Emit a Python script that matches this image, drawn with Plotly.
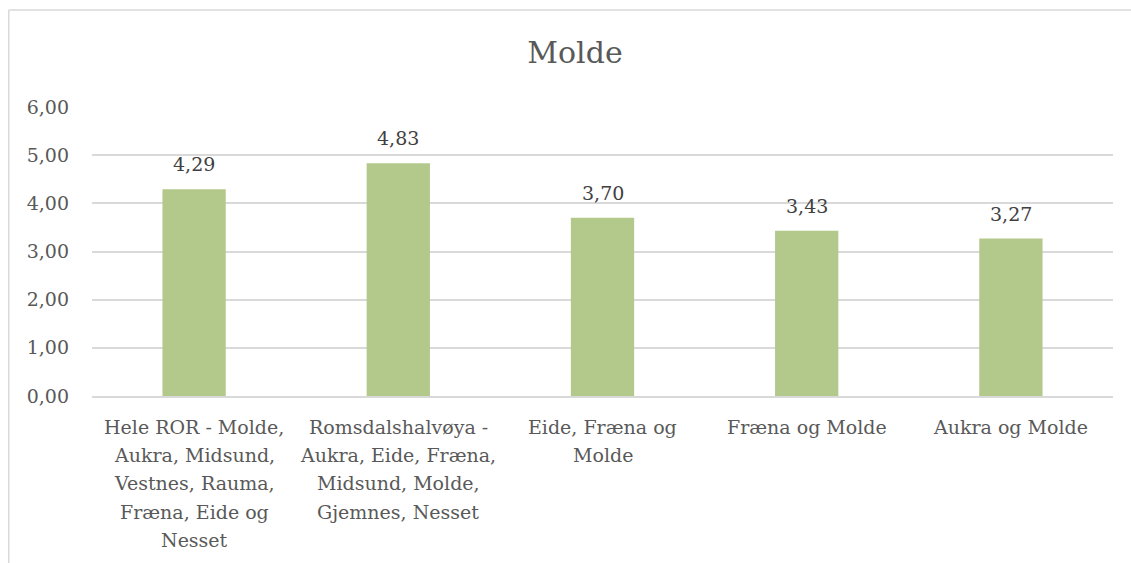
import plotly.graph_objects as go

categories = [
    "Hele ROR - Molde,<br>Aukra, Midsund,<br>Vestnes, Rauma,<br>Fræna, Eide og<br>Nesset",
    "Romsdalshalvøya -<br>Aukra, Eide, Fræna,<br>Midsund, Molde,<br>Gjemnes, Nesset",
    "Eide, Fræna og<br>Molde",
    "Fræna og Molde",
    "Aukra og Molde",
]
values = [4.29, 4.83, 3.70, 3.43, 3.27]
tick_vals = [0, 1, 2, 3, 4, 5, 6]
tick_text = ["0,00", "1,00", "2,00", "3,00", "4,00", "5,00", "6,00"]
title_text = "Molde"

FONT = "DejaVu Serif"
TXT = "#595959"
GRID = "#D9D9D9"
BAR = "#B3C98B"

# body margin is removed below, so the figure fills the window from (0, 0)
W, H = 1131, 563
L, T = 92, 107
PW, PH = 1021, 289
R = W - L - PW
B = H - T - PH

fig = go.Figure()
fig.add_trace(go.Bar(
    x=list(range(len(categories))), y=values,
    marker=dict(color=BAR, line=dict(width=0)),
    width=0.31, hoverinfo="skip",
))

# data labels
for i, v in enumerate(values):
    fig.add_annotation(
        x=i, y=v, text=f"{v:.2f}".replace(".", ","),
        showarrow=False, yanchor="bottom", yshift=12,
        font=dict(family=FONT, size=19, color="#404040"),
    )

# category labels, one annotation per line (wide line spacing)
for i, cat in enumerate(categories):
    for k, line in enumerate(cat.split("<br>")):
        fig.add_annotation(
            x=i, y=0, text=line, showarrow=False,
            xanchor="center", yanchor="middle", yshift=-(31 + 28.2 * k),
            font=dict(family=FONT, size=19, color=TXT),
        )

# outer chart border (top and left visible)
y_top = (H - B - 10) / PH
y_bot = (H - B - H - 5) / PH
x_left = (8.75 - L) / PW
x_right = (W - L + 5) / PW
fig.add_shape(type="line", xref="paper", yref="paper", x0=x_left, x1=x_right,
              y0=y_top, y1=y_top, line=dict(color=GRID, width=1.5))
fig.add_shape(type="line", xref="paper", yref="paper", x0=x_left, x1=x_left,
              y0=y_top, y1=y_bot, line=dict(color=GRID, width=1.5))

fig.update_layout(
    width=W, height=H,
    margin=dict(l=L, r=R, t=T, b=B, autoexpand=False),
    paper_bgcolor="white", plot_bgcolor="white",
    showlegend=False,
    title=dict(text=title_text, x=575 / W, xref="container", xanchor="center",
               y=1 - 52 / H, yref="container", yanchor="middle",
               font=dict(family=FONT, size=30, color=TXT)),
    font=dict(family=FONT, color=TXT),
    xaxis=dict(
        tickmode="array", tickvals=list(range(len(categories))),
        range=[-0.5, len(categories) - 0.5],
        showgrid=False, showline=True, linecolor=GRID, linewidth=1.5,
        ticks="", showticklabels=False,
    ),
    yaxis=dict(
        range=[0, 6], tickmode="array", tickvals=tick_vals, ticktext=tick_text,
        showgrid=True, gridcolor=GRID, gridwidth=1.5, zeroline=False,
        showline=False, ticks="", tickfont=dict(family=FONT, size=19, color=TXT),
        ticklabelstandoff=22,
    ),
)

fig.write_html(
    "out.html",
    config={"displayModeBar": False},
    post_script="document.body.style.margin='0';"
                "document.documentElement.style.overflow='hidden';"
                "document.body.style.overflow='hidden';",
)
